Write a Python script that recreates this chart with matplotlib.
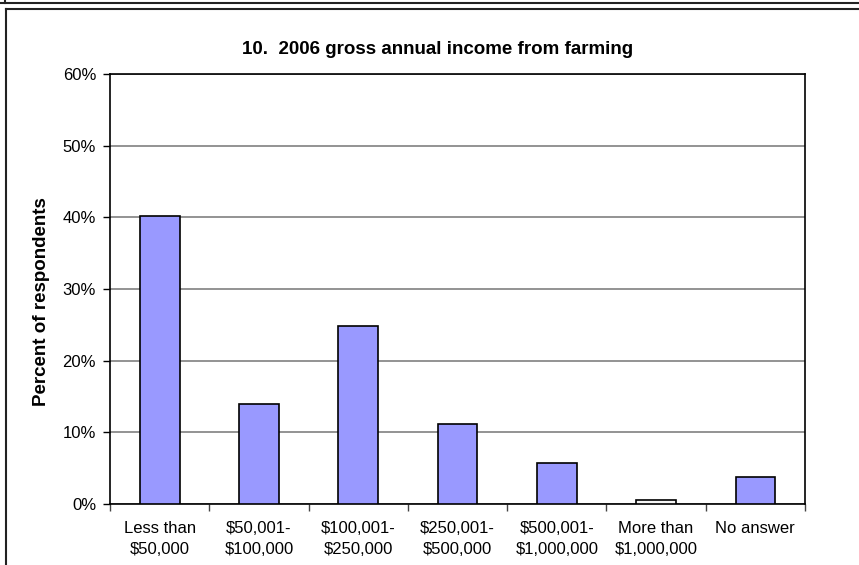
import matplotlib.pyplot as plt
from matplotlib.lines import Line2D
from matplotlib.ticker import FixedLocator, FuncFormatter

plt.rcParams['font.family'] = ['Liberation Sans', 'DejaVu Sans']

categories = ["Less than\n$50,000", "$50,001-\n$100,000", "$100,001-\n$250,000",
              "$250,001-\n$500,000", "$500,001-\n$1,000,000", "More than\n$1,000,000",
              "No answer"]
percent = [40.2, 14.0, 24.8, 11.1, 5.7, 0.5, 3.7]
bar_colors = ["#9999ff"] * 5 + ["#f6f6f6", "#9999ff"]
yticks = [0, 10, 20, 30, 40, 50, 60]

W, H = 859, 565
fig = plt.figure(figsize=(W / 100, H / 100), dpi=100)
ax = fig.add_axes([110 / W, 1 - 504 / H, 695 / W, 430 / H])

x = list(range(len(categories)))
ax.bar(x, percent, width=0.4, color=bar_colors, edgecolor="black", linewidth=1.2, zorder=3)

ax.set_xlim(-0.5, len(categories) - 0.5)
ax.set_ylim(0, 60)
ax.set_yticks(yticks)
ax.yaxis.set_major_formatter(FuncFormatter(lambda v, p: f"{v:.0f}%"))
ax.grid(axis="y", color="#808080", linewidth=1.2, zorder=0)

ax.set_xticks(x)
ax.set_xticklabels(categories, fontsize=12, linespacing=1.5)
ax.xaxis.set_minor_locator(FixedLocator([i - 0.5 for i in range(len(categories) + 1)]))
ax.tick_params(axis="x", which="major", length=0, pad=12)
ax.tick_params(axis="x", which="minor", length=5, width=1, color="#444444")
ax.tick_params(axis="y", length=5, width=1, labelsize=12, pad=5)

for s in ax.spines.values():
    s.set_linewidth(1.2)
    s.set_color("black")

fig.text(42 / W, 1 - 302 / H, "Percent of respondents", rotation=90,
         ha="center", va="center", fontsize=13.5, fontweight="bold")
fig.text(438 / W, 1 - 50 / H, "10.  2006 gross annual income from farming",
         ha="center", va="center", fontsize=13.5, fontweight="bold")

# outer frames
lw = 1.5
fig.add_artist(Line2D([0, 1], [1 - 3 / H, 1 - 3 / H], color="#222222", lw=lw, transform=fig.transFigure))
fig.add_artist(Line2D([5 / W, 5 / W], [1, 1 - 3 / H], color="#222222", lw=lw, transform=fig.transFigure))
fig.add_artist(Line2D([6 / W, 1], [1 - 9 / H, 1 - 9 / H], color="#222222", lw=lw, transform=fig.transFigure))
fig.add_artist(Line2D([6 / W, 6 / W], [0, 1 - 9 / H], color="#222222", lw=lw, transform=fig.transFigure))

fig.savefig("out.png", dpi=100)
